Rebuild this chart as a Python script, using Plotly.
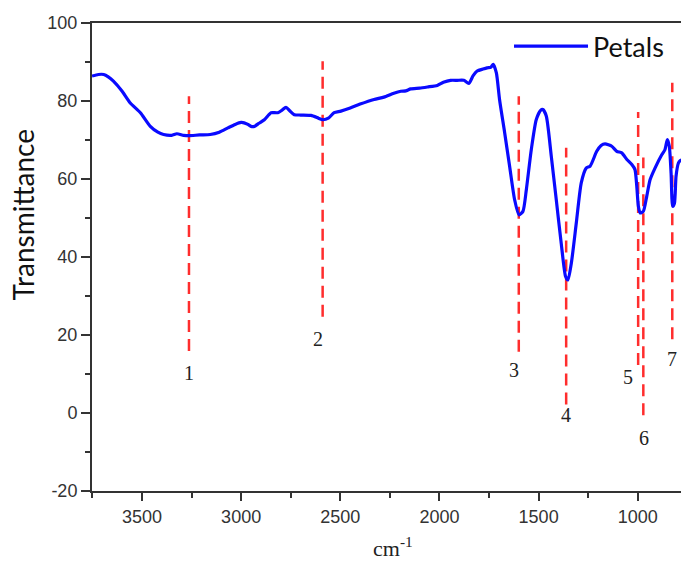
import plotly.graph_objects as go

# FTIR spectrum of petals (wavenumber cm-1, transmittance)
wavenumber = [3752, 3720, 3693, 3670, 3644, 3600, 3559, 3508, 3458, 3420, 3391, 3350, 3324, 3290,
              3263, 3210, 3156, 3110, 3067, 3030, 3000, 2985, 2966, 2950, 2933, 2910, 2883, 2860,
              2849, 2815, 2795, 2774, 2755, 2732, 2700, 2648, 2610, 2589, 2560, 2531, 2497, 2450,
              2400, 2330, 2280, 2230, 2195, 2170, 2145, 2100, 2060, 2011, 1980, 1944, 1910, 1877,
              1852, 1830, 1810, 1780, 1760, 1740, 1729, 1713, 1697, 1671, 1646, 1621, 1599, 1579,
              1562, 1537, 1512, 1490, 1478, 1461, 1436, 1411, 1386, 1364, 1352, 1335, 1310, 1285,
              1260, 1240, 1207, 1185, 1165, 1131, 1106, 1081, 1055, 1030, 1014, 1005, 997, 988,
              972, 955, 938, 913, 879, 863, 851, 841, 832, 824, 815, 807, 795, 787, 770]
transmittance = [86.4, 86.8, 86.8, 86.2, 85.1, 82.5, 79.5, 77.0, 73.5, 72.0, 71.4, 71.2, 71.6, 71.2,
                 71.1, 71.3, 71.4, 72.0, 73.1, 74.0, 74.5, 74.4, 74.0, 73.5, 73.5, 74.3, 75.2, 76.5,
                 77.0, 77.0, 77.6, 78.4, 77.5, 76.5, 76.4, 76.3, 75.6, 75.2, 75.6, 77.0, 77.4, 78.2,
                 79.2, 80.4, 81.0, 82.0, 82.5, 82.6, 83.1, 83.3, 83.6, 84.0, 84.8, 85.3, 85.3, 85.3,
                 84.5, 86.5, 87.7, 88.2, 88.5, 88.7, 89.4, 87.2, 80.4, 71.8, 63.2, 54.7, 50.8, 51.7,
                 57.2, 67.5, 75.2, 77.6, 77.8, 76.1, 65.8, 54.7, 43.5, 35.0, 34.1, 38.4, 48.7, 59.0,
                 62.8, 63.3, 67.1, 68.6, 69.0, 68.4, 67.1, 66.7, 65.0, 63.7, 62.4, 58.1, 53.0, 51.3,
                 51.7, 55.5, 59.8, 62.8, 66.2, 67.5, 70.1, 68.4, 61.5, 53.0, 53.8, 60.7, 64.1, 64.7, 65.0]

# Marked bands: position, dashed-line extent, label position
band_labels = ["1", "2", "3", "4", "5", "6", "7"]
band_pos = [3263, 2589, 1600, 1361, 998, 972, 826]
band_bottom = [15.9, 24.7, 15.7, 2.2, 12.3, -0.6, 18.9]
band_top = [81.2, 90.2, 81.2, 68.0, 77.2, 65.5, 84.7]
label_x = [3265, 2610, 1626, 1360, 1049, 969, 828]
label_y = [10.3, 19.1, 11.0, -0.5, 9.3, -6.4, 13.8]

x_ticks = [3500, 3000, 2500, 2000, 1500, 1000]
x_ticktext = ["3500", "3000", "2500", "2000", "1500", "1000"]
y_ticks = [-20, 0, 20, 40, 60, 80, 100]
y_ticktext = ["-20", "0", "20", "40", "60", "80", "100"]

fig = go.Figure()

for p, b, t in zip(band_pos, band_bottom, band_top):
    fig.add_trace(go.Scatter(x=[p, p], y=[b, t], mode="lines", showlegend=False,
                             hoverinfo="skip",
                             line=dict(color="rgb(255,45,45)", width=2.5, dash="12px,7px")))

fig.add_trace(go.Scatter(x=wavenumber, y=transmittance, mode="lines", name="Petals",
                         line=dict(color="#0a0aff", width=3.2, shape="spline", smoothing=0.6)))

for lab, lx, ly in zip(band_labels, label_x, label_y):
    fig.add_annotation(x=lx, y=ly, text=lab, showarrow=False,
                       font=dict(family="Liberation Serif", size=20, color="#222"))

axis_font = dict(family="Liberation Sans, Arial", size=18, color="#333")

fig.update_xaxes(range=[3752, 782], tickvals=x_ticks, ticktext=x_ticktext, ticks="outside",
                 ticklen=8, tickwidth=2,
                 tickcolor="#333", showline=True, linecolor="#333", linewidth=2, mirror=True,
                 showgrid=False, zeroline=False, tickfont=axis_font,
                 minor=dict(dtick=250, ticks="outside", ticklen=5, tickwidth=2, tickcolor="#333",
                            showgrid=False))
fig.update_yaxes(range=[-20, 100], tickvals=y_ticks, ticktext=y_ticktext, ticks="outside",
                 ticklen=9, tickwidth=2,
                 tickcolor="#333", showline=True, linecolor="#333", linewidth=2,
                 showgrid=False, zeroline=False, tickfont=axis_font,
                 minor=dict(dtick=10, ticks="outside", ticklen=5, tickwidth=2, tickcolor="#333",
                            showgrid=False))

fig.add_annotation(xref="paper", yref="paper", x=0.511, y=-0.154, xanchor="center", yanchor="bottom",
                   text="cm<sup>-1</sup>", showarrow=False,
                   font=dict(family="Liberation Serif", size=22, color="#222"))
fig.add_annotation(xref="paper", yref="paper", x=-0.118, y=0.59, xanchor="center", yanchor="middle",
                   text="Transmittance", textangle=-90, showarrow=False,
                   font=dict(family="Lato", size=28, color="#111"))

fig.update_layout(
    width=681, height=565,
    margin=dict(l=92, r=0, t=23, b=74),
    paper_bgcolor="white", plot_bgcolor="white",
    showlegend=True,
    legend=dict(x=0.708, y=1.002, xanchor="left", yanchor="top", bgcolor="rgba(255,255,255,0)",
                font=dict(family="Lato", size=27, color="#111"), itemwidth=74,
                tracegroupgap=0),
)

fig.write_html("out.html")
